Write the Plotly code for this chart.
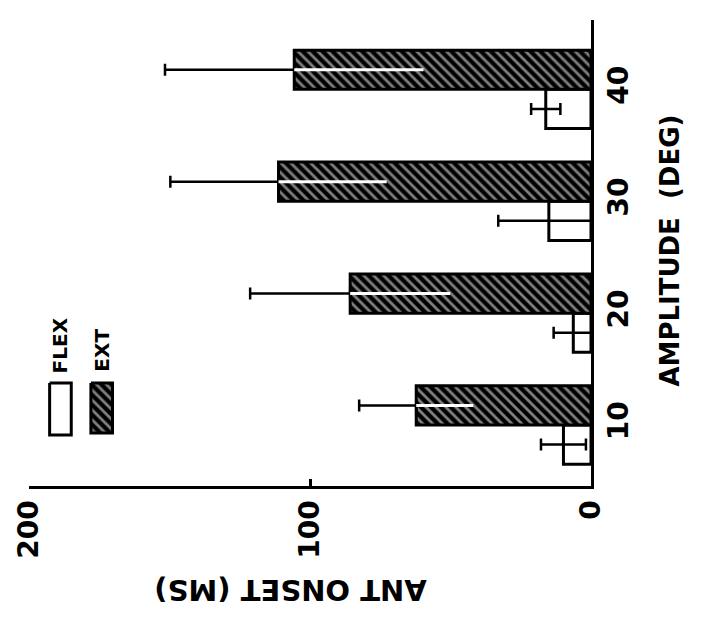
import plotly.graph_objects as go

# Antagonist onset latency by movement amplitude, flexion vs extension
amplitude = ["10", "20", "30", "40"]
flex_onset = [9.8, 6.3, 15.0, 16.1]
flex_err = [8.0, 7.0, 18.0, 5.2]
ext_onset = [62.2, 85.7, 111.2, 105.6]
ext_err = [20.3, 35.6, 38.5, 46.0]
value_ticks = [0, 100, 200]

W, H = 713, 634
L, R, T, B = 19, 122, 20, 148
FONT = "DejaVu Sans"
# dark hatching: black ground with thin white diagonals
HATCH = dict(shape="\\", fgcolor="white", bgcolor="black", size=7, solidity=0.4)


def px_x(px):
    """Pixel column -> paper x."""
    return (px - L) / (W - L - R)


def px_y(py):
    """Pixel row -> paper y."""
    return (H - B - py) / (H - T - B)


fig = go.Figure()

fig.add_trace(go.Bar(
    y=amplitude, x=flex_onset, orientation="h", name="FLEX", offsetgroup="flex",
    marker=dict(color="white", line=dict(color="black", width=3)),
    error_x=dict(type="data", array=flex_err, symmetric=True,
                 color="black", thickness=2.5, width=6),
))
fig.add_trace(go.Bar(
    y=amplitude, x=ext_onset, orientation="h", name="EXT", offsetgroup="ext",
    marker=dict(color="black", line=dict(color="black", width=3), pattern=HATCH),
    error_x=dict(type="data", array=ext_err, arrayminus=[0] * len(ext_err),
                 symmetric=False, color="black", thickness=2.5, width=6),
))
# inner half of the EXT error bars, drawn white over the hatching
fig.add_trace(go.Bar(
    y=amplitude, x=ext_onset, orientation="h", offsetgroup="ext",
    showlegend=False, hoverinfo="skip",
    marker=dict(color="rgba(0,0,0,0)", line=dict(width=0)),
    error_x=dict(type="data", array=[0] * len(ext_err), arrayminus=ext_err,
                 symmetric=False, color="white", thickness=3, width=0),
))

# legend swatches on a hidden overlay axis in paper units
swatches = [
    ("FLEX", 40, 62, 383, 435, None),
    ("EXT", 82, 104, 383, 433, HATCH),
]
for name, x0, x1, y0, y1, pat in swatches:
    xs = [px_x(x0), px_x(x1), px_x(x1), px_x(x0), px_x(x0)]
    ys = [px_y(y0), px_y(y0), px_y(y1), px_y(y1), px_y(y0)]
    kw = dict(fillpattern=pat) if pat else {}
    fig.add_trace(go.Scatter(
        x=xs, y=ys, xaxis="x2", yaxis="y2", mode="lines", fill="toself",
        fillcolor="black" if pat else "white", line=dict(color="black", width=3),
        showlegend=False, hoverinfo="skip", **kw,
    ))

annotations = [
    dict(text="ANT ONSET (MS)", x=px_x(285), y=px_y(590), textangle=180, size=29),
    dict(text="AMPLITUDE\u00a0\u00a0(DEG)", x=px_x(671), y=px_y(251), textangle=-90, size=26),
    dict(text="FLEX", x=px_x(51), y=px_y(345), textangle=-90, size=20),
    dict(text="EXT", x=px_x(93), y=px_y(350), textangle=-90, size=20),
]

fig.update_layout(
    width=W, height=H, autosize=False,
    margin=dict(l=L, r=R, t=T, b=B, pad=0),
    paper_bgcolor="white", plot_bgcolor="white",
    barmode="group", bargap=0.30, bargroupgap=0,
    showlegend=False,
    font=dict(family=FONT, color="black", weight="bold"),
    xaxis=dict(
        range=[200, 0], tickvals=value_ticks, ticktext=[str(v) for v in value_ticks],
        ticks="inside", ticklen=7, tickwidth=2.5, tickcolor="black", tickangle=-90,
        showline=True, linecolor="black", linewidth=3, showgrid=False, zeroline=False,
        tickfont=dict(size=28, family=FONT, weight="bold"), side="bottom",
    ),
    yaxis=dict(
        type="category", categoryorder="array", categoryarray=amplitude,
        range=[-0.545, 3.62], side="right", showline=True, linecolor="black",
        linewidth=3, ticks="", tickangle=-90, showgrid=False, zeroline=False,
        tickfont=dict(size=28, family=FONT, weight="bold"),
    ),
    xaxis2=dict(range=[0, 1], overlaying="x", visible=False, anchor="y2"),
    yaxis2=dict(range=[0, 1], overlaying="y", visible=False, anchor="x2"),
    annotations=[
        dict(text=a["text"], x=a["x"], y=a["y"], xref="paper", yref="paper",
             xanchor="center", yanchor="middle", showarrow=False,
             textangle=a["textangle"],
             font=dict(size=a["size"], family=FONT, color="black", weight="bold"))
        for a in annotations
    ],
)

fig.write_html("out.html")
